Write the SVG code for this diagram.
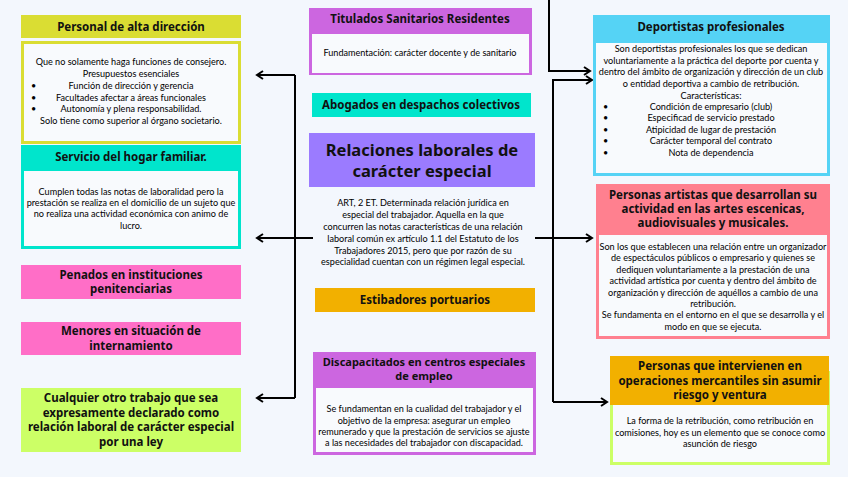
<svg xmlns="http://www.w3.org/2000/svg" width="848" height="477" viewBox="0 0 848 477">
<defs>
<marker id="ah" markerWidth="10" markerHeight="10" refX="7" refY="5" orient="auto" markerUnits="userSpaceOnUse">
<path d="M1,1 L7,5 L1,9" fill="none" stroke="#000" stroke-width="2"/>
</marker>
<style>
.h{font-family:"Noto Sans","DejaVu Sans",sans-serif;font-weight:700;font-size:11.5px;fill:#111;text-anchor:middle}
.b{font-family:Lato,"Noto Sans",sans-serif;font-size:9.1px;fill:#000;text-anchor:middle}
.bl{font-family:Lato,"Noto Sans",sans-serif;font-size:9px;fill:#000}
.c{fill:none;stroke:#000;stroke-width:2}
</style>
</defs>
<rect width="848" height="477" fill="#F3F7FD"/>

<g id="connectors">
<path class="c" d="M295,75 V398"/>
<path class="c" d="M295,75 H257" marker-end="url(#ah)"/>
<path class="c" d="M313,238 H257" marker-end="url(#ah)"/>
<path class="c" d="M295,398 H257" marker-end="url(#ah)"/>
<path class="c" d="M549,0 V71 H590" marker-end="url(#ah)"/>
<path class="c" d="M553,402 V80 H592" marker-end="url(#ah)"/>
<path class="c" d="M535,238 H592" marker-end="url(#ah)"/>
<path class="c" d="M553,402 H607" marker-end="url(#ah)"/>
</g>

<g id="personal">
<rect x="21" y="15" width="220" height="23" fill="#DADD33"/>
<text class="h" x="131" y="30.5">Personal de alta dirección</text>
<rect x="22.5" y="42.5" width="217" height="100" fill="#F8FAFD" stroke="#DADD33" stroke-width="3"/>
<text class="b" x="131" y="65">Que no solamente haga funciones de consejero.</text>
<text class="b" x="131" y="77">Presupuestos esenciales</text>
<text class="b" x="131" y="89">Función de dirección y gerencia</text>
<text class="b" x="131" y="101">Facultades afectar a áreas funcionales</text>
<text class="b" x="131" y="112">Autonomía y plena responsabilidad.</text>
<text class="b" x="131" y="124">Solo tiene como superior al órgano societario.</text>
<text class="bl" x="31" y="89">•</text>
<text class="bl" x="31" y="101">•</text>
<text class="bl" x="31" y="112">•</text>
</g>

<g id="servicio">
<rect x="21" y="145" width="220" height="23" fill="#00E5CC"/>
<text class="h" x="131" y="160.5">Servicio del hogar familiar.</text>
<rect x="22.5" y="169.5" width="217" height="78" fill="#F8FAFD" stroke="#00E5CC" stroke-width="3"/>
<text class="b" x="131" y="195">Cumplen todas las notas de laboralidad pero la</text>
<text class="b" x="131" y="206">prestación se realiza en el domicilio de un sujeto que</text>
<text class="b" x="131" y="217">no realiza una actividad económica con animo de</text>
<text class="b" x="131" y="229">lucro.</text>
</g>

<g id="penados">
<rect x="21" y="265" width="220" height="34" fill="#FF6EC7"/>
<text class="h" x="131" y="279">Penados en instituciones</text>
<text class="h" x="131" y="293">penitenciarias</text>
</g>

<g id="menores">
<rect x="21" y="322" width="220" height="33" fill="#FF6EC7"/>
<text class="h" x="131" y="335">Menores en situación de</text>
<text class="h" x="131" y="350">internamiento</text>
</g>

<g id="cualquier">
<rect x="21" y="388" width="220" height="64" fill="#CCFF66"/>
<text class="h" x="131" y="402">Cualquier otro trabajo que sea</text>
<text class="h" x="131" y="417">expresamente declarado como</text>
<text class="h" x="131" y="431">relación laboral de carácter especial</text>
<text class="h" x="131" y="446">por una ley</text>
</g>

<g id="titulados">
<rect x="309" y="8" width="223" height="67" fill="#CC66E0"/>
<text class="h" x="420" y="23">Titulados Sanitarios Residentes</text>
<rect x="312" y="34" width="217" height="39" fill="#F8FAFD"/>
<text class="b" x="420" y="56">Fundamentación: carácter docente y de sanitario</text>
</g>

<g id="abogados">
<rect x="312" y="93" width="219" height="24" fill="#00E5CC"/>
<text class="h" x="421" y="109">Abogados en despachos colectivos</text>
</g>

<g id="relaciones">
<rect x="309" y="133" width="226" height="54" fill="#9B7BFF"/>
<text class="h" x="422" y="156" style="font-size:16.5px">Relaciones laborales de</text>
<text class="h" x="422" y="177" style="font-size:16.5px">carácter especial</text>
<text class="b" x="423" y="206">ART, 2 ET. Determinada relación jurídica en</text>
<text class="b" x="423" y="218">especial del trabajador.  Aquella en la que</text>
<text class="b" x="423" y="230">concurren las notas características de una relación</text>
<text class="b" x="423" y="242">laboral común ex artículo 1.1 del Estatuto de los</text>
<text class="b" x="423" y="254">Trabajadores 2015, pero que por razón de su</text>
<text class="b" x="423" y="265">especialidad cuentan con un régimen legal especial.</text>
</g>

<g id="estibadores">
<rect x="315" y="288" width="220" height="24" fill="#F2B000"/>
<text class="h" x="425" y="304">Estibadores portuarios</text>
</g>

<g id="discapacitados">
<rect x="313" y="352" width="223" height="33" fill="#CC66E0"/>
<text class="h" x="424" y="366" style="font-size:11px">Discapacitados en centros especiales</text>
<text class="h" x="424" y="380" style="font-size:11px">de empleo</text>
<rect x="314.5" y="386.5" width="220" height="67" fill="#F8FAFD" stroke="#CC66E0" stroke-width="3"/>
<text class="b" x="424" y="412">Se fundamentan en la cualidad del trabajador y el</text>
<text class="b" x="424" y="424">objetivo de la empresa: asegurar un empleo</text>
<text class="b" x="424" y="435">remunerado y que la prestación de servicios se ajuste</text>
<text class="b" x="424" y="446">a las necesidades del trabajador con discapacidad.</text>
</g>

<g id="deportistas">
<rect x="593" y="15" width="237" height="25" fill="#55D3F5"/>
<text class="h" x="711" y="31">Deportistas profesionales</text>
<rect x="594.5" y="41.5" width="234" height="133" fill="#F8FAFD" stroke="#55D3F5" stroke-width="3"/>
<text class="b" x="711" y="52">Son deportistas profesionales los que se dedican</text>
<text class="b" x="711" y="64">voluntariamente a la práctica del deporte por cuenta y</text>
<text class="b" x="711" y="75">dentro del ámbito de organización y dirección de un club</text>
<text class="b" x="711" y="87">o entidad deportiva a cambio de retribución.</text>
<text class="b" x="711" y="99">Características:</text>
<text class="b" x="711" y="110">Condición de empresario (club)</text>
<text class="b" x="711" y="121">Especificad de servicio prestado</text>
<text class="b" x="711" y="133">Atipicidad de lugar de prestación</text>
<text class="b" x="711" y="144">Carácter temporal del contrato</text>
<text class="b" x="711" y="156">Nota de dependencia</text>
<text class="bl" x="603" y="110">•</text>
<text class="bl" x="603" y="121">•</text>
<text class="bl" x="603" y="133">•</text>
<text class="bl" x="603" y="144">•</text>
<text class="bl" x="603" y="156">•</text>
</g>

<g id="artistas">
<rect x="596" y="184" width="234" height="49" fill="#FF808F"/>
<text class="h" x="713" y="199">Personas artistas que desarrollan su</text>
<text class="h" x="713" y="213">actividad en las artes escenicas,</text>
<text class="h" x="713" y="227">audiovisuales y musicales.</text>
<rect x="597.5" y="233.5" width="231" height="104" fill="#F8FAFD" stroke="#FF808F" stroke-width="3"/>
<text class="b" x="713" y="250">Son los que establecen una relación entre un organizador</text>
<text class="b" x="713" y="261">de espectáculos públicos o empresario y quienes se</text>
<text class="b" x="713" y="273">dediquen voluntariamente a la prestación de una</text>
<text class="b" x="713" y="284">actividad artística por cuenta y dentro del ámbito de</text>
<text class="b" x="713" y="296">organización y dirección de aquéllos a cambio de una</text>
<text class="b" x="713" y="307">retribución.</text>
<text class="b" x="713" y="318">Se fundamenta en el entorno en el que se desarrolla y el</text>
<text class="b" x="713" y="330">modo en que se ejecuta.</text>
</g>

<g id="intervienen">
<rect x="611.5" y="372.5" width="217" height="91" fill="#F8FAFD" stroke="#CCFF66" stroke-width="3"/>
<rect x="610" y="356" width="219" height="49" fill="#F2B000"/>
<text class="h" x="720" y="370">Personas que intervienen en</text>
<text class="h" x="720" y="385">operaciones mercantiles sin asumir</text>
<text class="h" x="720" y="399">riesgo y ventura</text>
<text class="b" x="720" y="424">La forma de la retribución, como retribución en</text>
<text class="b" x="720" y="436">comisiones, hoy es un elemento que se conoce como</text>
<text class="b" x="720" y="447">asunción de riesgo</text>
</g>
</svg>
